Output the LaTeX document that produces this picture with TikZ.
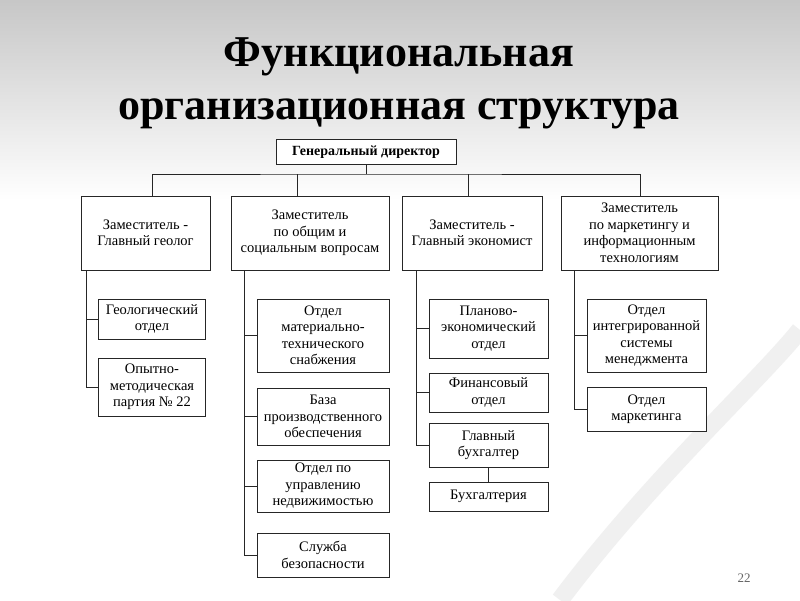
\documentclass[tikz,border=0pt]{standalone}
\usepackage{fontspec}
\setmainfont{Liberation Serif}
\begin{document}
\begin{tikzpicture}[x=1pt,y=-1pt,
  bx/.style={draw=black!85,fill=white,line width=1pt,align=center,inner sep=1pt,font=\fontsize{14.5}{16.5}\selectfont},
  ln/.style={draw=black!85,line width=1pt}]
\useasboundingbox (0,0) rectangle (800,600);
\shade[top color=black!22,bottom color=white] (0,0) rectangle (800,200);
\fill[white] (0,200) rectangle (800,600);
\draw[black!6,line width=18pt] (560,600) .. controls (650,480) and (760,380) .. (800,330);
\node[font=\bfseries\fontsize{44}{53}\selectfont,align=center] (title) at (399,83) {Функциональная\\организационная структура};
\node[bx,font=\bfseries\fontsize{14}{16}\selectfont,minimum width=180pt,minimum height=25pt] (gd) at (366,152) {Генеральный директор};
\node[bx,minimum width=129pt,minimum height=74pt] (d1) at (145.5,233) {Заместитель -\\Главный геолог};
\node[bx,minimum width=158pt,minimum height=74pt] (d2) at (310,233) {Заместитель\\по общим и\\социальным вопросам};
\node[bx,minimum width=140pt,minimum height=74pt] (d3) at (472,233) {Заместитель -\\Главный экономист};
\node[bx,minimum width=157pt,minimum height=74pt] (d4) at (639.5,233) {Заместитель\\по маркетингу и\\информационным\\технологиям};
\coordinate (bus) at (366,174);
\draw[ln] (gd.south) -- (bus);
\draw[ln] (d1.north -| 152,0) |- (bus) -| (640,196);
\draw[ln] (297,174) -- (297,196);
\draw[ln] (468,174) -- (468,196);
% column 1
\node[bx,minimum width=107pt,minimum height=40pt] (a1) at (152,319) {Геологический\\отдел};
\node[bx,minimum width=107pt,minimum height=58pt] (a2) at (152,387) {Опытно-\\методическая\\партия № 22};
\draw[ln] (86,270) |- (a2.west);
\draw[ln] (86,319) -- (a1.west);
% column 2
\node[bx,minimum width=132pt,minimum height=73pt] (b1) at (323,335.5) {Отдел\\материально-\\технического\\снабжения};
\node[bx,minimum width=132pt,minimum height=57pt] (b2) at (323,416.5) {База\\производственного\\обеспечения};
\node[bx,minimum width=132pt,minimum height=52pt] (b3) at (323,486) {Отдел по\\управлению\\недвижимостью};
\node[bx,minimum width=132pt,minimum height=44pt] (b4) at (323,555) {Служба\\безопасности};
\draw[ln] (244,270) |- (b4.west);
\draw[ln] (244,335.5) -- (b1.west);
\draw[ln] (244,416.5) -- (b2.west);
\draw[ln] (244,486) -- (b3.west);
% column 3
\node[bx,minimum width=119pt,minimum height=59pt] (c1) at (488.5,328.5) {Планово-\\экономический\\отдел};
\node[bx,minimum width=119pt,minimum height=39pt] (c2) at (488.5,392.5) {Финансовый\\отдел};
\node[bx,minimum width=119pt,minimum height=44pt] (c3) at (488.5,445) {Главный\\бухгалтер};
\node[bx,minimum width=119pt,minimum height=29pt] (c4) at (488.5,496.5) {Бухгалтерия};
\draw[ln] (416,270) |- (c3.west);
\draw[ln] (416,328.5) -- (c1.west);
\draw[ln] (416,392.5) -- (c2.west);
\draw[ln] (c3.south) -- (c4.north);
% column 4
\node[bx,minimum width=119pt,minimum height=73pt] (e1) at (646.5,335.5) {Отдел\\интегрированной\\системы\\менеджмента};
\node[bx,minimum width=119pt,minimum height=44pt] (e2) at (646.5,409) {Отдел\\маркетинга};
\draw[ln] (574,270) |- (e2.west);
\draw[ln] (574,335.5) -- (e1.west);
\node[text=black!60,font=\fontsize{13}{15}\selectfont] (pg) at (744,578) {22};
\end{tikzpicture}
\end{document}
